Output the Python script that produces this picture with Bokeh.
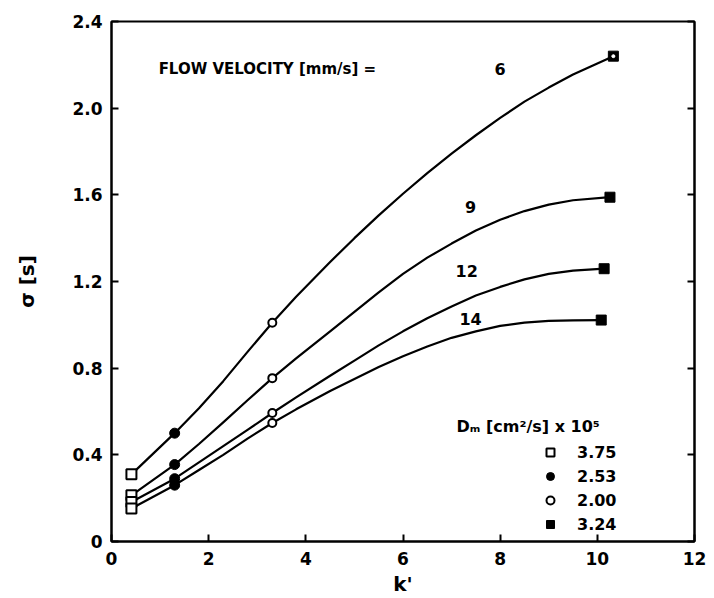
from bokeh.plotting import figure
from bokeh.models import (Range1d, LinearAxis, FixedTicker, Label, Legend,
                          LegendItem, CustomJSTickFormatter, ColumnDataSource)
from bokeh.embed import file_html
from bokeh.resources import INLINE

FONT = "DejaVu Sans"

# ---- measured points (k', sigma [s]) for each flow velocity ----
velocities = ["6", "9", "12", "14"]
k_6 = [0.41, 1.30, 3.31, 10.33]
s_6 = [0.31, 0.50, 1.01, 2.24]
k_9 = [0.41, 1.30, 3.31, 10.26]
s_9 = [0.213, 0.355, 0.754, 1.589]
k_12 = [0.41, 1.30, 3.31, 10.14]
s_12 = [0.182, 0.29, 0.593, 1.259]
k_14 = [0.41, 1.30, 3.31, 10.08]
s_14 = [0.152, 0.26, 0.547, 1.022]

# ---- hand-drawn smooth curves ----
curve_k_6 = [0.41, 1.3, 1.8, 2.3, 2.8, 3.31, 3.8, 4.5, 5.0, 5.5, 6.0, 6.5, 7.0, 7.5, 8.0, 8.5, 9.0, 9.5, 10.33]
curve_s_6 = [0.31, 0.50, 0.615, 0.74, 0.875, 1.01, 1.13, 1.29, 1.40, 1.505, 1.605, 1.70, 1.79, 1.875, 1.955, 2.03, 2.095, 2.155, 2.24]
curve_k_9 = [0.41, 1.3, 1.8, 2.3, 2.8, 3.31, 3.8, 4.5, 5.0, 5.5, 6.0, 6.5, 7.0, 7.5, 8.0, 8.5, 9.0, 9.5, 10.26]
curve_s_9 = [0.213, 0.355, 0.45, 0.55, 0.652, 0.754, 0.845, 0.97, 1.06, 1.15, 1.235, 1.31, 1.375, 1.435, 1.485, 1.525, 1.555, 1.575, 1.589]
curve_k_12 = [0.41, 1.3, 1.8, 2.3, 2.8, 3.31, 3.8, 4.5, 5.0, 5.5, 6.0, 6.5, 7.0, 7.5, 8.0, 8.5, 9.0, 9.5, 10.14]
curve_s_12 = [0.182, 0.29, 0.365, 0.44, 0.515, 0.593, 0.665, 0.765, 0.835, 0.905, 0.97, 1.03, 1.085, 1.135, 1.175, 1.21, 1.235, 1.25, 1.259]
curve_k_14 = [0.41, 1.3, 1.8, 2.3, 2.8, 3.31, 3.8, 4.5, 5.0, 5.5, 6.0, 6.5, 7.0, 7.5, 8.0, 8.5, 9.0, 9.5, 10.08]
curve_s_14 = [0.152, 0.26, 0.33, 0.40, 0.475, 0.547, 0.61, 0.695, 0.75, 0.805, 0.855, 0.90, 0.94, 0.97, 0.995, 1.01, 1.018, 1.021, 1.022]

# ---- solutes (marker legend): D_m [cm^2/s] x 10^5 ----
dm_labels = ["3.75", "2.53", "2.00", "3.24"]

x_ticks = [0, 2, 4, 6, 8, 10, 12]
y_ticks = [0, 0.4, 0.8, 1.2, 1.6, 2.0, 2.4]

p = figure(width=714, height=598, output_backend="svg", toolbar_location=None,
           x_range=Range1d(0, 12), y_range=Range1d(0, 2.4),
           min_border_left=111, min_border_right=20, min_border_top=21,
           min_border_bottom=54)
p.grid.visible = False
p.outline_line_color = "black"
p.outline_line_width = 2
p.background_fill_color = "white"
p.border_fill_color = "white"

for ax in (p.xaxis[0], p.yaxis[0]):
    ax.axis_line_width = 2
    ax.major_tick_in = 7
    ax.major_tick_out = 0
    ax.major_tick_line_width = 2
    ax.minor_tick_line_color = None
    ax.major_label_text_font = FONT
    ax.major_label_text_font_style = "bold"
    ax.major_label_text_font_size = "17px"
    ax.major_label_text_color = "black"
    ax.axis_label_text_font = FONT
    ax.axis_label_text_font_style = "bold"
    ax.axis_label_text_font_size = "20px"
    ax.axis_label_text_color = "black"

p.xaxis.ticker = FixedTicker(ticks=x_ticks)
p.yaxis.ticker = FixedTicker(ticks=y_ticks)
p.yaxis.formatter = CustomJSTickFormatter(code="return tick == 0 ? '0' : tick.toFixed(1);")
p.xaxis.major_label_standoff = 10
p.yaxis.major_label_standoff = 9
p.xaxis.axis_label = "k'"
p.yaxis.axis_label = "σ [s]"
p.xaxis.axis_label_standoff = 4
p.yaxis.axis_label_standoff = 30

right = LinearAxis(ticker=FixedTicker(ticks=y_ticks), axis_line_width=2,
                   major_tick_in=7, major_tick_out=0, major_tick_line_width=2,
                   minor_tick_line_color=None,
                   formatter=CustomJSTickFormatter(code="return '';"),
                   major_label_standoff=0)
p.add_layout(right, "right")

# curves
for ck, cs in [(curve_k_6, curve_s_6), (curve_k_9, curve_s_9),
               (curve_k_12, curve_s_12), (curve_k_14, curve_s_14)]:
    p.line(ck, cs, line_color="black", line_width=2.2, line_join="round")

# markers, one series per solute
all_k = [k_6, k_9, k_12, k_14]
all_s = [s_6, s_9, s_12, s_14]

def solute_source(i):
    return ColumnDataSource(dict(k=[kk[i] for kk in all_k], s=[ss[i] for ss in all_s]))

r0 = p.scatter("k", "s", source=solute_source(0), marker="square", size=10,
               fill_color="white", line_color="black", line_width=2)
r1 = p.scatter("k", "s", source=solute_source(1), marker="circle", size=10,
               fill_color="black", line_color="black", line_width=1)
r2 = p.scatter("k", "s", source=solute_source(2), marker="circle", size=8,
               fill_color="white", line_color="black", line_width=2)
r3 = p.scatter("k", "s", source=solute_source(3), marker="square", size=10,
               fill_color="black", line_color="black", line_width=1)
# overlapping open circle on the top curve's last point
p.scatter([k_6[3]], [s_6[3]], marker="circle", size=3, fill_color="white",
          line_color="white")

legend = Legend(items=[LegendItem(label=dm_labels[i], renderers=[r])
                       for i, r in enumerate([r0, r1, r2, r3])],
                location=(429, 7), border_line_color=None, background_fill_alpha=0,
                padding=0, margin=0, spacing=4, label_height=20, glyph_height=20,
                glyph_width=20, label_standoff=17, label_text_font=FONT,
                label_text_font_style="bold", label_text_font_size="16px",
                label_text_color="black")
p.add_layout(legend)

def lab(x, y, text, size="16px", align="center"):
    p.add_layout(Label(x=x, y=y, text=text, text_font=FONT, text_font_style="bold",
                       text_font_size=size, text_align=align,
                       text_baseline="middle", text_color="black"))

lab(0.97, 2.18, "FLOW VELOCITY [mm/s] =", size="15px", align="left")
lab(8.0, 2.18, velocities[0])
lab(7.39, 1.542, velocities[1])
lab(7.31, 1.248, velocities[2])
lab(7.39, 1.028, velocities[3])
lab(7.1, 0.532, "Dₘ [cm²/s] x 10⁵", size="16px", align="left")

open("out.html", "w").write(file_html(p, INLINE))
